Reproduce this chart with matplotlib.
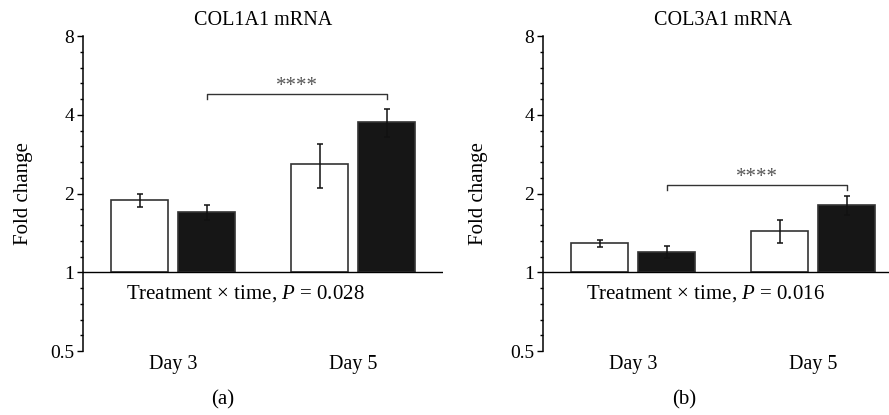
import matplotlib
matplotlib.use("Agg")
import matplotlib.pyplot as plt
import numpy as np
from matplotlib.ticker import FixedLocator, FixedFormatter

plt.rcParams["font.family"] = ["Liberation Serif", "DejaVu Serif"]
plt.rcParams["mathtext.fontset"] = "custom"
plt.rcParams["mathtext.rm"] = "Liberation Serif"
plt.rcParams["mathtext.it"] = "Liberation Serif:italic"

days = ["Day 3", "Day 5"]
titles = ["COL1A1 mRNA", "COL3A1 mRNA"]
panel_tags = ["(a)", "(b)"]
p_text = ["Treatment \u00d7 time, $P$ = 0.028", "Treatment \u00d7 time, $P$ = 0.016"]

# fold change, white (control) and black (treated)
col1_white = [1.885, 2.60]
col1_white_err = [0.115, 0.50]
col1_black = [1.70, 3.74]
col1_black_err = [0.11, 0.46]

col3_white = [1.29, 1.44]
col3_white_err = [0.04, 0.15]
col3_black = [1.195, 1.81]
col3_black_err = [0.065, 0.15]

sig_y = [4.8, 2.15]
yticks = [0.5, 1, 2, 4, 8]
ytick_labels = ["0.5", "1", "2", "4", "8"]

fig = plt.figure(figsize=(8.89, 4.15), dpi=100)
positions = [[0.0934, 0.1542, 0.405, 0.759], [0.6111, 0.1542, 0.405, 0.759]]
label_x = [-0.139, -0.153]

data = [
    (col1_white, col1_white_err, col1_black, col1_black_err),
    (col3_white, col3_white_err, col3_black, col3_black_err),
]

w = 0.317
off = 0.186
x = np.arange(len(days))

for i, (wv, we, bv, be) in enumerate(data):
    ax = fig.add_axes(positions[i])
    ax.set_yscale("log", base=2)
    ax.set_ylim(0.5, 8)
    ax.set_xlim(-0.5, 1.5)

    ekw = dict(elinewidth=1.1, capthick=1.1, ecolor="#111111")
    ax.bar(x - off, np.array(wv) - 1, w, bottom=1, color="white",
           edgecolor="#333333", linewidth=1.2, yerr=we, capsize=2.5,
           error_kw=ekw, zorder=2)
    ax.bar(x + off, np.array(bv) - 1, w, bottom=1, color="#161616",
           edgecolor="#333333", linewidth=1.2, yerr=be, capsize=2.5,
           error_kw=ekw, zorder=2)
    ax.axhline(1, color="black", linewidth=1.0, zorder=3)

    # significance bracket between the black bars
    x1, x2 = x[0] + off, x[1] + off
    y = sig_y[i]
    yd = y / 2 ** (5 / 78.7)
    ax.plot([x1, x1, x2, x2], [yd, y, y, yd], color="#333333", linewidth=1.0)
    ax.text((x1 + x2) / 2, y * 2 ** (0.10), "****", ha="center", va="center",
            fontsize=15, color="#555555")

    ax.text(0.40, 0.83, p_text[i], ha="center", va="center", fontsize=15)

    for s in ["top", "right", "bottom"]:
        ax.spines[s].set_visible(False)
    ax.spines["left"].set_linewidth(1.1)

    ax.yaxis.set_major_locator(FixedLocator(yticks))
    ax.yaxis.set_major_formatter(FixedFormatter(ytick_labels))
    minor = [2 ** (k + j / 5) for k in range(-1, 3) for j in range(1, 5)]
    ax.yaxis.set_minor_locator(FixedLocator(minor))
    ax.yaxis.set_minor_formatter(FixedFormatter([""] * len(minor)))
    ax.tick_params(axis="y", which="major", length=4.5, width=1.0, labelsize=14, pad=2)
    ax.tick_params(axis="y", which="minor", length=2.2, width=1.0)

    ax.set_xticks(x)
    ax.set_xticklabels(days, fontsize=14.5)
    ax.tick_params(axis="x", length=0, pad=3)

    ax.set_ylabel("Fold change", fontsize=15)
    ax.yaxis.set_label_coords(label_x[i], 0.5)
    ax.set_title(titles[i], fontsize=14.5, pad=8)

fig.text(0.25, 0.036, panel_tags[0], ha="center", va="center", fontsize=15)
fig.text(0.770, 0.036, panel_tags[1], ha="center", va="center", fontsize=15)

fig.savefig("out.png", dpi=100)
